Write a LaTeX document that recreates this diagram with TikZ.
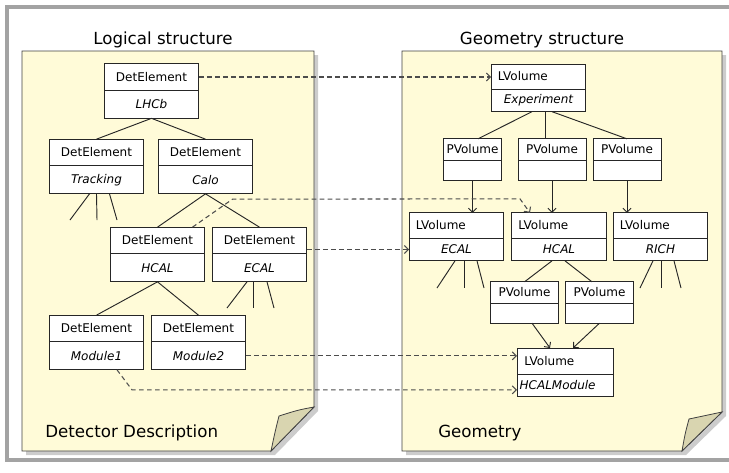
\documentclass[tikz,border=0pt]{standalone}
\usepackage{fontspec}
\setmainfont{DejaVu Sans}
\usetikzlibrary{arrows.meta, positioning, calc, shadows}
\definecolor{notebg}{HTML}{FFFBD8}
\definecolor{notefold}{HTML}{D9D5B0}
\definecolor{framegray}{HTML}{A3A3A3}
\newcommand{\boxfont}{\fontsize{9}{11}\selectfont}
\newcommand{\titlefont}{\fontsize{12.5}{15}\selectfont}

\begin{document}
\begin{tikzpicture}[
  x=0.75pt, y=-0.75pt,
  head/.style={draw=black!85, fill=white, inner sep=0pt, outer sep=0pt, line width=0.6pt,
               minimum width=71pt, minimum height=20pt, font=\boxfont},
  body/.style={head, minimum height=21pt, font=\boxfont\itshape},
  lvhead/.style={head, minimum height=19pt, text width=61pt, align=left},
  lvbody/.style={body, minimum height=17pt},
  pvhead/.style={head, minimum width=51pt, minimum height=16pt},
  pvbody/.style={pvhead, minimum height=15pt},
  note/.style={fill=notebg, draw=black!75, line width=0.6pt,
               drop shadow={shadow xshift=3pt, shadow yshift=-3pt, opacity=0.4}},
  fold/.style={fill=notefold, draw=black!75, line width=0.6pt},
  tree/.style={black!85, line width=0.7pt},
  arrow/.style={tree, -{Straight Barb[length=3pt, width=6pt]}},
  link/.style={dash pattern=on 3.5pt off 2.5pt, black!70, line width=0.8pt,
               -{Straight Barb[length=3pt, width=6pt]}},
  label/.style={font=\titlefont, inner sep=0pt}
]
  \useasboundingbox (0,0) rectangle (729,472);
  \clip (0,0) rectangle (729,472);
  \draw[framegray, line width=2.5pt] (7,7) rectangle (745,460);

  % sticky notes
  \path[note] (22,51) -- (314,51) -- (314,407) -- (271,451) -- (22,451) -- cycle;
  \path[fold] (314,407) .. controls (298,410) .. (279,416) .. controls (275,432) .. (271,451) -- cycle;
  \path[note] (402,51) -- (722,51) -- (722,412) -- (682,451) -- (402,451) -- cycle;
  \path[fold] (722,412) .. controls (706,415) .. (689,419) .. controls (685,434) .. (682,451) -- cycle;

  \node[label] (logtitle) at (163,40) {Logical structure};
  \node[label] (geotitle) at (542,40) {Geometry structure};
  \node[label, anchor=west] (ddlabel) at (45,433) {Detector Description};
  \node[label, anchor=west] (geolabel) at (438,433) {Geometry};

  % logical structure
  \node[head] (lhcb) at (151.5,77) {DetElement};
  \node[body, below=0pt of lhcb] (lhcb-n) {LHCb};
  \node[head] (trk) at (96.5,152.5) {DetElement};
  \node[body, below=0pt of trk] (trk-n) {Tracking};
  \node[head] (calo) at (205.5,152.5) {DetElement};
  \node[body, below=0pt of calo] (calo-n) {Calo};
  \node[head] (hcal) at (157.5,240.5) {DetElement};
  \node[body, below=0pt of hcal] (hcal-n) {HCAL};
  \node[head] (ecal) at (259.5,240.5) {DetElement};
  \node[body, below=0pt of ecal] (ecal-n) {ECAL};
  \node[head] (mod1) at (96.5,328.5) {DetElement};
  \node[body, below=0pt of mod1] (mod1-n) {Module1};
  \node[head] (mod2) at (198.5,328.5) {DetElement};
  \node[body, below=0pt of mod2] (mod2-n) {Module2};

  % geometry structure
  \node[lvhead, minimum height=18.75pt] (exp) at (538.5,76.5) {LVolume};
  \node[lvbody, below=0pt of exp] (exp-n) {Experiment};
  \node[pvhead, minimum width=44pt] (pv1) at (472.5,149.5) {PVolume};
  \node[pvbody, minimum width=44pt, below=0pt of pv1] (pv1-n) {};
  \node[pvhead] (pv2) at (552,149.5) {PVolume};
  \node[pvbody, below=0pt of pv2] (pv2-n) {};
  \node[pvhead] (pv3) at (627,149.5) {PVolume};
  \node[pvbody, below=0pt of pv3] (pv3-n) {};
  \node[lvhead] (lvecal) at (456.5,225.5) {LVolume};
  \node[lvbody, below=0pt of lvecal] (lvecal-n) {ECAL};
  \node[lvhead] (lvhcal) at (559,225.5) {LVolume};
  \node[lvbody, below=0pt of lvhcal] (lvhcal-n) {HCAL};
  \node[lvhead] (lvrich) at (660.5,225.5) {LVolume};
  \node[lvbody, below=0pt of lvrich] (lvrich-n) {RICH};
  \node[pvhead] (pva) at (524.5,292.5) {PVolume};
  \node[pvbody, below=0pt of pva] (pva-n) {};
  \node[pvhead] (pvb) at (599.5,292.5) {PVolume};
  \node[pvbody, below=0pt of pvb] (pvb-n) {};
  \node[lvhead, minimum width=72pt, minimum height=19.5pt] (hcm) at (565,361) {LVolume};
  \node[lvbody, minimum width=72pt, text width=68pt, align=left, below=0pt of hcm] (hcm-n) {HCALModule};

  % tree branches
  \draw[tree] (lhcb-n.south) -- (trk.north);
  \draw[tree] (lhcb-n.south) -- (calo.north);
  \draw[tree] (calo-n.south) -- (hcal.north);
  \draw[tree] (calo-n.south) -- (ecal.north);
  \draw[tree] (hcal-n.south) -- (mod1.north);
  \draw[tree] (hcal-n.south) -- (mod2.north);
  \draw[tree] ($(exp-n.south)+(-6.5,0)$) -- ($(pv1.north)+(5.5,0)$);
  \draw[tree] ($(exp-n.south)+(6.5,0)$) -- ($(pv2.north)+(-7,0)$);
  \draw[tree] ($(exp-n.south)+(13.5,0)$) -- (pv3.north);
  \draw[tree] ($(lvhcal-n.south)+(-7,0)$) -- (pva.north);
  \draw[tree] ($(lvhcal-n.south)+(6,0)$) -- ($(pvb.north)+(-7.5,0)$);

  % open ends
  \foreach \dx/\ex [count=\i] in {-7/70, 0/97, 13/117} {
    \coordinate (trk-end\i) at (\ex,220);
    \draw[tree] ($(trk-n.south)+(\dx,0)$) -- (trk-end\i);
  }
  \foreach \dx/\ex [count=\i] in {-12.5/227, -6.5/253, 7.5/274} {
    \coordinate (ecal-end\i) at (\ex,308);
    \draw[tree] ($(ecal-n.south)+(\dx,0)$) -- (ecal-end\i);
  }
  \foreach \dx/\ex [count=\i] in {-1.5/437, 7.5/464, 20.5/484} {
    \coordinate (lvecal-end\i) at (\ex,288);
    \draw[tree] ($(lvecal-n.south)+(\dx,0)$) -- (lvecal-end\i);
  }
  \foreach \dx/\ex [count=\i] in {-7.5/640, 0.5/661, 13.5/681} {
    \coordinate (lvrich-end\i) at (\ex,288);
    \draw[tree] ($(lvrich-n.south)+(\dx,0)$) -- (lvrich-end\i);
  }

  % placements
  \draw[arrow] (pv1-n.south) -- (pv1-n.south |- lvecal.north);
  \draw[arrow] (pv2-n.south) -- (pv2-n.south |- lvhcal.north);
  \draw[arrow] (pv3-n.south) -- (pv3-n.south |- lvrich.north);
  \draw[arrow] ($(pva-n.south)+(7.5,0)$) -- ($(hcm.north)+(-15,0)$);
  \draw[arrow] (pvb-n.south) -- ($(hcm.north)+(8,0)$);

  % detector element -> volume
  \draw[link] (lhcb.east) -- (lhcb.east -| exp.west);
  \draw[link] ($(hcal.north)+(35,0)$) -- ++(40,-28) -- ($(lvhcal.north)+(-39,-14)$) -- ($(lvhcal.north)+(-29,0)$);
  \draw[link] (ecal.east |- lvecal-n.west) -- (lvecal-n.west);
  \draw[link] (mod2-n.east) -- (mod2-n.east -| hcm.west);
  \draw[link] ($(mod1-n.south)+(20.5,0)$) -- ++(15,20) -- ($(hcm-n.west)+(0,4.5)$);
\end{tikzpicture}
\end{document}
